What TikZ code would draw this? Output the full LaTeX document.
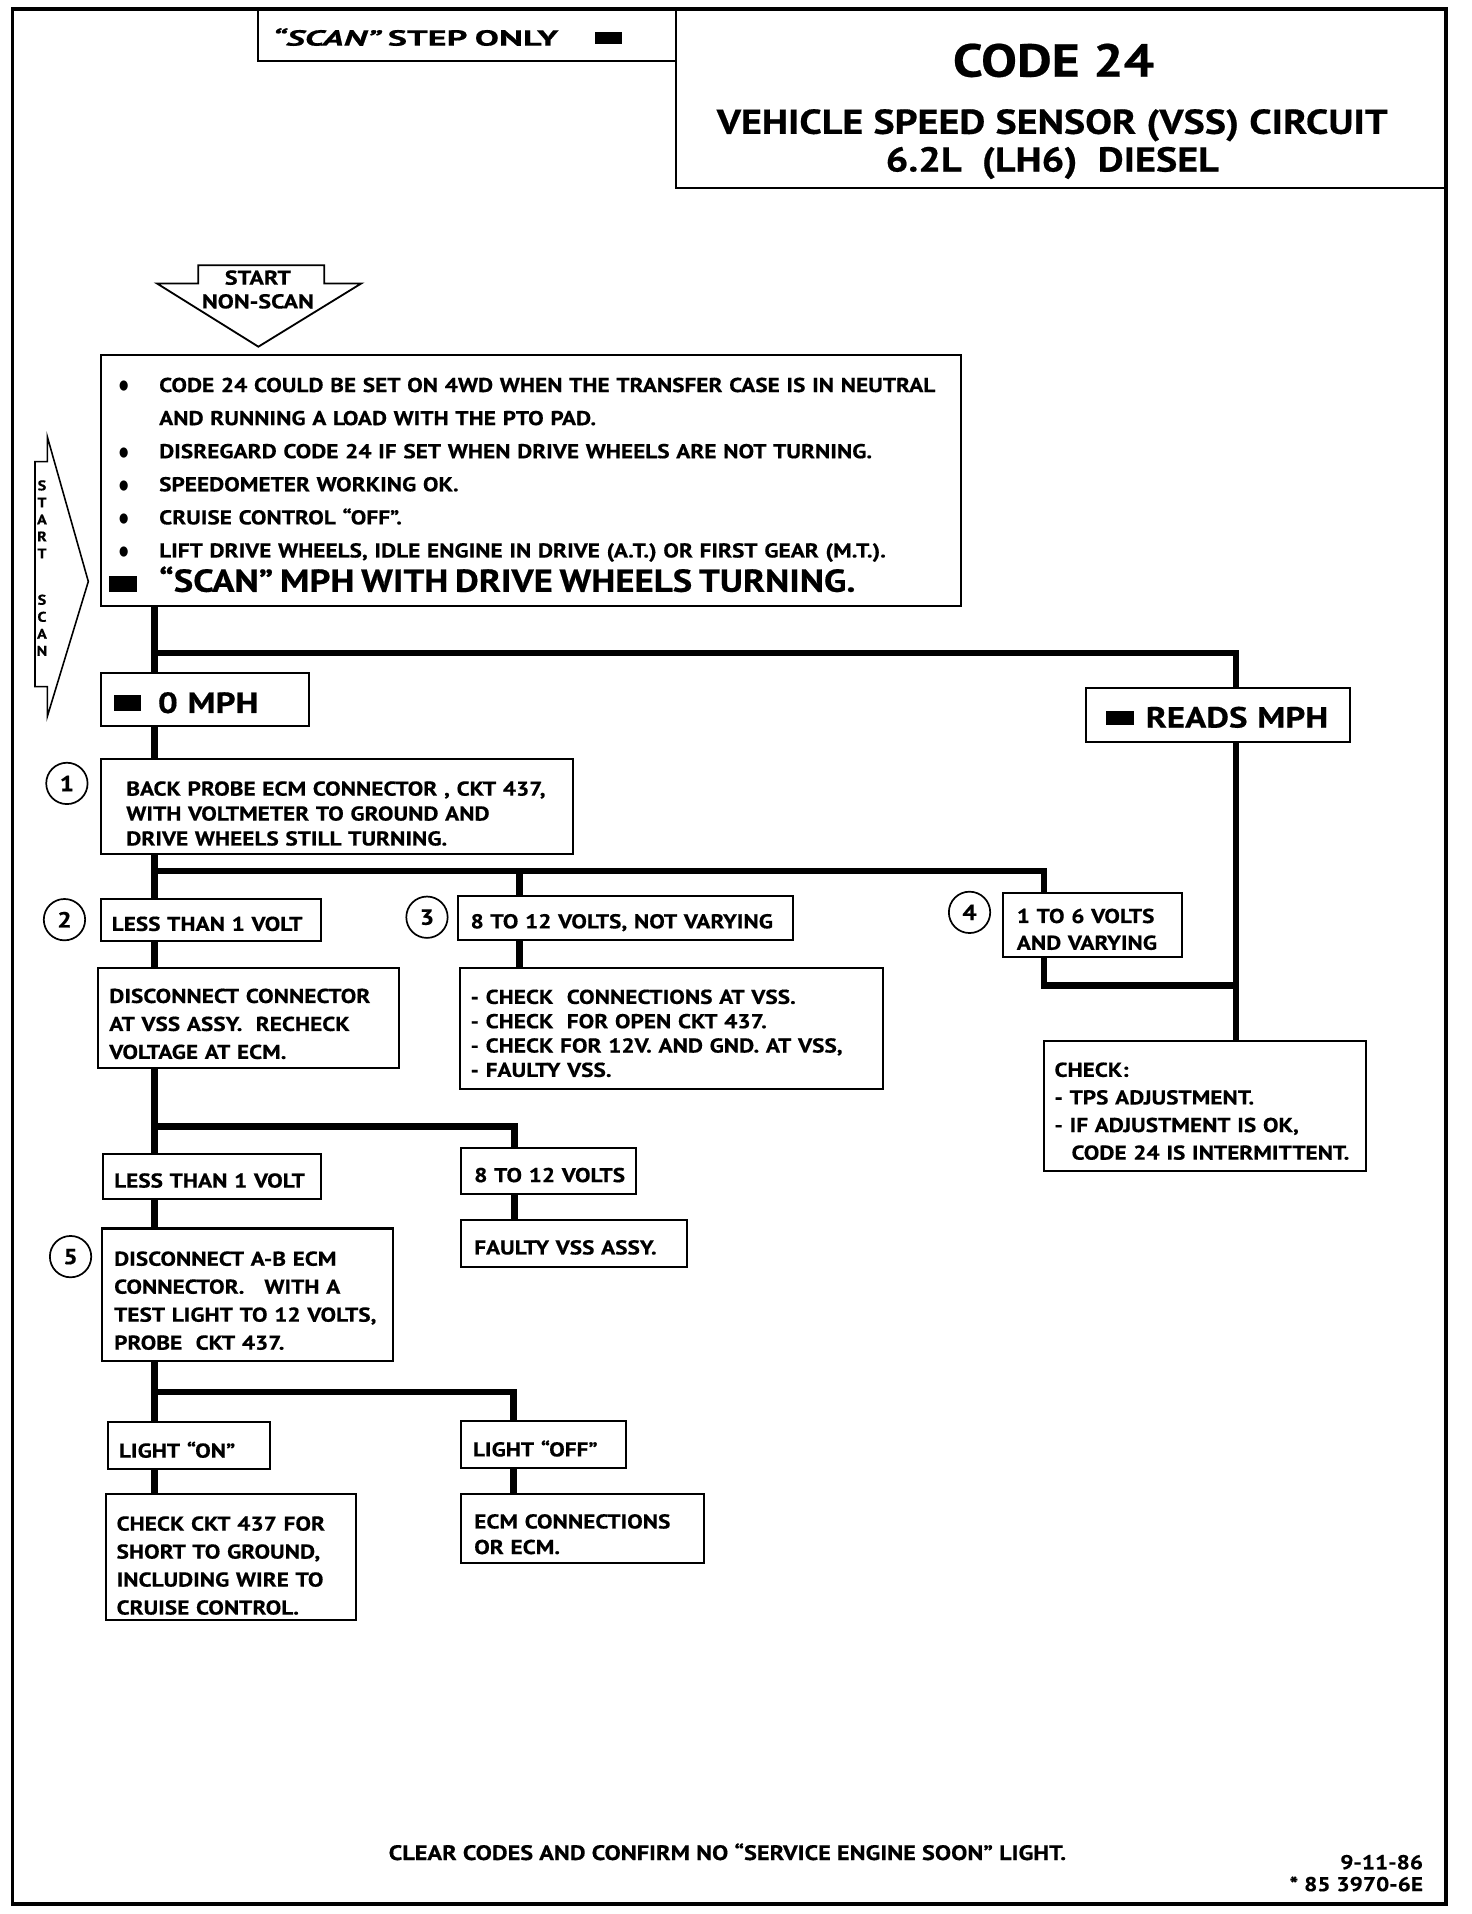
\documentclass[tikz,border=0pt]{standalone}
\usepackage{fontspec}
\setmainfont{PT Sans}[FakeStretch=1.16, FakeBold=0.5]
\newfontfamily\widefam[FakeStretch=1.2, FakeBold=0.5]{PT Sans}
\newfontfamily\xwidefam[FakeStretch=1.66, FakeBold=0.5]{PT Sans}
\newfontfamily\dejavu{DejaVu Sans}
\newcommand\fsz[2]{\fontsize{#1}{#2}\selectfont\bfseries}
\newcommand\oneln[1]{\mbox{#1}}
\newcommand\bul{\makebox[34pt][l]{\hspace*{1pt}\raisebox{1.8pt}{\scalebox{0.8}[1]{\dejavu\fontsize{11}{11}\selectfont ●}}}}
\begin{document}
\begin{tikzpicture}[x=1pt,y=-1pt,
 box/.style={draw, line width=1.7pt, anchor=north west, align=left, inner ysep=0pt},
 conn/.style={line width=5.2pt},
 num/.style={circle, draw, line width=1.4pt, minimum size=34pt, inner sep=0pt, font=\fsz{18}{18}},
 plain/.style={inner sep=0pt},
 small/.style={font=\fsz{16.5}{20.5}},
 tdown/.style={execute at begin node={\rule{0pt}{#1}}}]
\useasboundingbox (0,0) rectangle (1210,1573.4);
\draw[line width=2.8pt] (10.5,7.5) rectangle (1188.5,1565);

% header
\node[box, tdown=16.6pt, minimum width=344, minimum height=42, text width=320, inner xsep=12, font=\fsz{18}{20}] (scanonly) at (211,7.5)
 {\oneln{\xwidefam\itshape “SCAN”\upshape\ STEP ONLY\hspace{30pt}\rule[1pt]{22pt}{10pt}}};
\node[box, minimum width=633.5, minimum height=146, inner sep=0pt] (title) at (555,7.5) {};
\node[plain, anchor=base, font=\fsz{38}{40}] (t1) at (866,63) {CODE 24};
\node[plain, anchor=base, font=\fsz{28.4}{30}] (t2) at (865,110) {VEHICLE SPEED SENSOR (VSS) CIRCUIT};
\node[plain, anchor=base, font=\fsz{28.4}{30}] (t3) at (865,141) {6.2L\ \ (LH6)\ \ DIESEL};

% start arrows
\draw[line width=1.5pt] (163,218) -- (266.6,218) -- (266.6,233) -- (297,233) -- (212.4,285) -- (129,233) -- (163,233) -- cycle;
\node[plain, font=\fsz{16.5}{19.5}, align=center] (startns) at (212,238) {\widefam START\\\widefam NON-SCAN};
\draw[line width=1.3pt] (38.9,359) -- (38.9,379.5) -- (28.8,379.5) -- (28.8,564.5) -- (38.9,564.5) -- (38.9,589) -- (72.6,478) -- cycle;
\node[plain, font=\fsz{11.5}{14}, align=center] (startsc) at (34.5,467) {S\\T\\A\\R\\T\\[24pt]S\\C\\A\\N};

% main box
\node[box, tdown=19.4pt, minimum width=707, minimum height=206, text width=679, inner xsep=14, font=\fsz{16.5}{27.2}] (big) at (82,291) {%
\oneln{\bul CODE 24 COULD BE SET ON 4WD WHEN THE TRANSFER CASE IS IN NEUTRAL}\\
\oneln{\hspace*{34pt}AND RUNNING A LOAD WITH THE PTO PAD.}\\
\oneln{\bul DISREGARD CODE 24 IF SET WHEN DRIVE WHEELS ARE NOT TURNING.}\\
\oneln{\bul SPEEDOMETER WORKING OK.}\\
\oneln{\bul CRUISE CONTROL “OFF”.}\\
\oneln{\bul LIFT DRIVE WHEELS, IDLE ENGINE IN DRIVE (A.T.) OR FIRST GEAR (M.T.).}\\[1pt]
\oneln{\hspace*{-7pt}\rule{23pt}{13pt}\hspace{18pt}\fontsize{26.1}{27}\selectfont “SCAN” MPH WITH DRIVE WHEELS TURNING.}};

\node[box, tdown=22.8pt, minimum width=171, minimum height=44, text width=149, inner xsep=11, font=\fsz{24}{26}] (zero) at (82,552)
 {\oneln{\widefam\rule[2pt]{22pt}{13pt}\hspace{14pt}0 MPH}};
\node[box, tdown=20.8pt, minimum width=217, minimum height=44, text width=185, inner xsep=16, font=\fsz{24}{26}] (reads) at (892,565)
 {\oneln{\widefam\rule[2pt]{23pt}{12pt}\hspace{10pt}READS MPH}};

\node[box, small, tdown=23.6pt, minimum width=388, minimum height=78, text width=346, inner xsep=21] (box1) at (82,623)
 {\oneln{BACK PROBE ECM CONNECTOR , CKT 437,}\\\oneln{WITH VOLTMETER TO GROUND AND}\\\oneln{DRIVE WHEELS STILL TURNING.}};
\node[box, small, tdown=18pt, minimum width=181, minimum height=35, text width=163, inner xsep=9] (box2) at (82,738) {\oneln{LESS THAN 1 VOLT}};
\node[box, small, tdown=19pt, minimum width=275, minimum height=36, text width=255, inner xsep=10] (box3) at (376,736) {\oneln{8 TO 12 VOLTS, NOT VARYING}};
\node[box, small, tdown=19pt, minimum width=147, minimum height=53, text width=125, inner xsep=11, font=\fsz{16.5}{22}] (box4) at (824,733) {\oneln{1 TO 6 VOLTS}\\\oneln{AND VARYING}};
\node[box, small, tdown=20pt, minimum width=265, minimum height=107, text width=247, inner xsep=9, font=\fsz{16.5}{22.7}] (check) at (857,855)
 {\oneln{CHECK:}\\\oneln{- TPS ADJUSTMENT.}\\\oneln{- IF ADJUSTMENT IS OK,}\\\oneln{\hspace*{14pt}CODE 24 IS INTERMITTENT.}};
\node[box, small, tdown=21.5pt, minimum width=247, minimum height=82, text width=229, inner xsep=9, font=\fsz{16.5}{23}] (disc) at (80,795)
 {\oneln{DISCONNECT CONNECTOR}\\\oneln{AT VSS ASSY.\ \ RECHECK}\\\oneln{VOLTAGE AT ECM.}};
\node[box, small, tdown=20pt, minimum width=348, minimum height=99, text width=330, inner xsep=9, font=\fsz{16.5}{20}] (chk3) at (377,795)
 {\oneln{- CHECK\ \ CONNECTIONS AT VSS.}\\\oneln{- CHECK\ \ FOR OPEN CKT 437.}\\\oneln{- CHECK FOR 12V. AND GND. AT VSS,}\\\oneln{- FAULTY VSS.}};
\node[box, small, tdown=18pt, minimum width=179, minimum height=37, text width=161, inner xsep=9] (lt1b) at (84,948) {\oneln{LESS THAN 1 VOLT}};
\node[box, small, tdown=18pt, minimum width=144, minimum height=38, text width=122, inner xsep=11] (v812) at (378,943) {\oneln{8 TO 12 VOLTS}};
\node[box, small, tdown=18pt, minimum width=186, minimum height=39, text width=164, inner xsep=11] (faulty) at (378,1002) {\oneln{FAULTY VSS ASSY.}};
\node[box, small, tdown=21.5pt, minimum width=239, minimum height=109, text width=219, inner xsep=10, font=\fsz{16.5}{23}] (box5) at (83,1009)
 {\oneln{DISCONNECT A-B ECM}\\\oneln{CONNECTOR.\ \ \ WITH A}\\\oneln{TEST LIGHT TO 12 VOLTS,}\\\oneln{PROBE\ \ CKT 437.}};
\node[box, small, tdown=20pt, minimum width=133, minimum height=39, text width=115, inner xsep=9] (lon) at (88,1168) {\oneln{LIGHT “ON”}};
\node[box, small, tdown=20pt, minimum width=136, minimum height=39, text width=116, inner xsep=10] (loff) at (378,1167) {\oneln{LIGHT “OFF”}};
\node[box, small, tdown=26pt, minimum width=206, minimum height=104, text width=188, inner xsep=9, font=\fsz{16.5}{23}] (short) at (86,1227)
 {\oneln{CHECK CKT 437 FOR}\\\oneln{SHORT TO GROUND,}\\\oneln{INCLUDING WIRE TO}\\\oneln{CRUISE CONTROL.}};
\node[box, small, tdown=21.5pt, minimum width=200, minimum height=57, text width=178, inner xsep=11, font=\fsz{16.5}{21}] (ecm) at (378,1227)
 {\oneln{ECM CONNECTIONS}\\\oneln{OR ECM.}};

% step numbers
\node[num] (n1) at (55,644) {1};
\node[num] (n2) at (53,756) {2};
\node[num] (n3) at (351,754) {3};
\node[num] (n4) at (797,750) {4};
\node[num] (n5) at (58,1033) {5};

% connectors
\coordinate (tx) at (127,0);
\coordinate (rx) at (1016,0);
\coordinate (x427) at (427,0);
\coordinate (x858) at (858,0);
\coordinate (x423) at (423,0);
\coordinate (x422) at (422,0);
\coordinate (j1) at (127,537);
\coordinate (j2) at (127,716);
\coordinate (j3) at (1016,810);
\coordinate (j4) at (127,926);
\coordinate (j5) at (127,1144);

\draw[conn] (big.south -| tx) -- (zero.north -| tx);
\draw[conn] (j1) -| (reads.north -| rx);
\draw[conn] (zero.south -| tx) -- (box1.north -| tx);
\draw[conn] (box1.south -| tx) -- (box2.north -| tx);
\draw[conn] (j2) -| (box4.north -| x858);
\draw[conn] (j2 -| x427) -- (box3.north -| x427);
\draw[conn] (box4.south -| x858) |- (j3);
\draw[conn] (reads.south -| rx) -- (check.north -| rx);
\draw[conn] (box2.south -| tx) -- (disc.north -| tx);
\draw[conn] (box3.south -| x427) -- (chk3.north -| x427);
\draw[conn] (disc.south -| tx) -- (lt1b.north -| tx);
\draw[conn] (j4) -| (v812.north -| x423);
\draw[conn] (v812.south -| x423) -- (faulty.north -| x423);
\draw[conn] (lt1b.south -| tx) -- (box5.north -| tx);
\draw[conn] (box5.south -| tx) -- (lon.north -| tx);
\draw[conn] (j5) -| (loff.north -| x422);
\draw[conn] (lon.south -| tx) -- (short.north -| tx);
\draw[conn] (loff.south -| x422) -- (ecm.north -| x422);

% footer
\node[plain, anchor=base, font=\fsz{17.2}{18}] (foot) at (598,1529) {CLEAR CODES AND CONFIRM NO “SERVICE ENGINE SOON” LIGHT.};
\node[plain, anchor=base east, font=\fsz{16.5}{18}] (date) at (1170,1536.6) {9-11-86};
\node[plain, anchor=base east, font=\fsz{16.5}{18}] (ref) at (1170,1554.6) {* 85 3970-6E};
\end{tikzpicture}
\end{document}
